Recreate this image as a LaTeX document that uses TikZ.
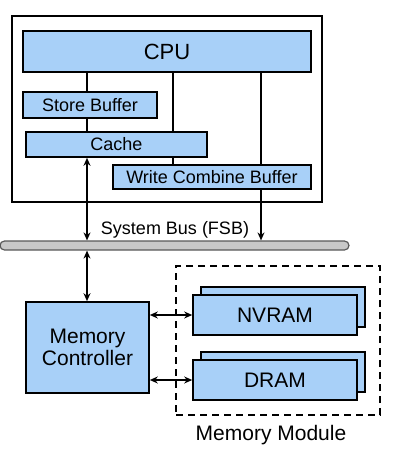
\documentclass[tikz,border=0pt]{standalone}
\usepackage{fontspec}
\setmainfont{Liberation Sans}
\usetikzlibrary{arrows.meta}

\definecolor{boxblue}{RGB}{168,208,248}
\definecolor{busgray}{RGB}{200,200,200}

\tikzset{
  blk/.style={draw, line width=1.6pt, fill=boxblue, inner sep=0pt, font=\fontsize{18}{20}\selectfont},
  big/.style={font=\fontsize{21}{24}\selectfont},
  link/.style={line width=2pt},
  arr/.style={line width=2pt, -{Stealth[length=8pt,width=7pt]}},
  biarr/.style={line width=2pt, {Stealth[length=8pt,width=7pt]}-{Stealth[length=8pt,width=7pt]}}
}

\begin{document}
\begin{tikzpicture}[x=1pt, y=-1pt]
				\useasboundingbox (0,0) rectangle (400,453);
				\node[draw, line width=2pt, minimum width=310pt, minimum height=186pt, inner sep=0pt] (chip) at (167, 109) {};
				\node[blk, minimum width=288pt, minimum height=41pt, font=\fontsize{22}{24}\selectfont] (cpu) at (167, 51.5) {CPU};
				\node[blk, minimum width=134pt, minimum height=26pt] (sb) at (90, 105) {Store Buffer};
				\node[blk, minimum width=181pt, minimum height=25pt] (cache) at (116.5, 144.5) {Cache};
				\node[blk, minimum width=198pt, minimum height=24pt] (wcb) at (212, 177) {Write Combine Buffer};
				\node[draw=black!65, line width=1.2pt, fill=busgray, rounded corners=4.5pt, minimum width=349pt, minimum height=9pt, inner sep=0pt] (bus) at (174.5, 245.5) {};
				\node[font=\fontsize{18}{20}\selectfont] (buslabel) at (175, 230) {System Bus (FSB)};
				\node[blk, big, minimum width=123pt, minimum height=91pt, align=center] (mc) at (87.5, 347.5) {Memory\\[-2pt]Controller};
				\node[draw, line width=2pt, dash pattern=on 7pt off 5pt, minimum width=204pt, minimum height=149pt] (module) at (278, 340.5) {};
				\node[blk, minimum width=164pt, minimum height=40pt] (nvramb) at (283, 307) {};
				\node[blk, big, minimum width=164pt, minimum height=40pt] (nvram) at (275, 315) {NVRAM};
				\node[blk, minimum width=164pt, minimum height=40pt] (dramb) at (283, 372) {};
				\node[blk, big, minimum width=164pt, minimum height=40pt] (dram) at (275, 380) {DRAM};
				\node[big] (modlabel) at (271, 435) {Memory Module};
				\coordinate (left) at (87, 0);
				\coordinate (mid) at (173, 0);
				\coordinate (right) at (261, 0);
				% inside the processor
				\draw[link] (cpu.south -| left) to (sb.north -| left);
				\draw[link] (sb.south -| left) to (cache.north -| left);
				\draw[link] (cpu.south -| mid) to (cache.north -| mid);
				\draw[link] (cache.south -| mid) to (wcb.north -| mid);
				\draw[link] (cpu.south -| right) to (wcb.north -| right);
				% to the bus
				\draw[biarr] (cache.south -| left) to (bus.north -| left);
				\draw[arr] (wcb.south -| right) to (bus.north -| right);
				\draw[biarr] (bus.south -| left) to (mc.north -| left);
				% to the memory
				\draw[biarr] (mc.east |- nvram) to (nvram.west);
				\draw[biarr] (mc.east |- dram) to (dram.west);
			\end{tikzpicture}
\end{document}
